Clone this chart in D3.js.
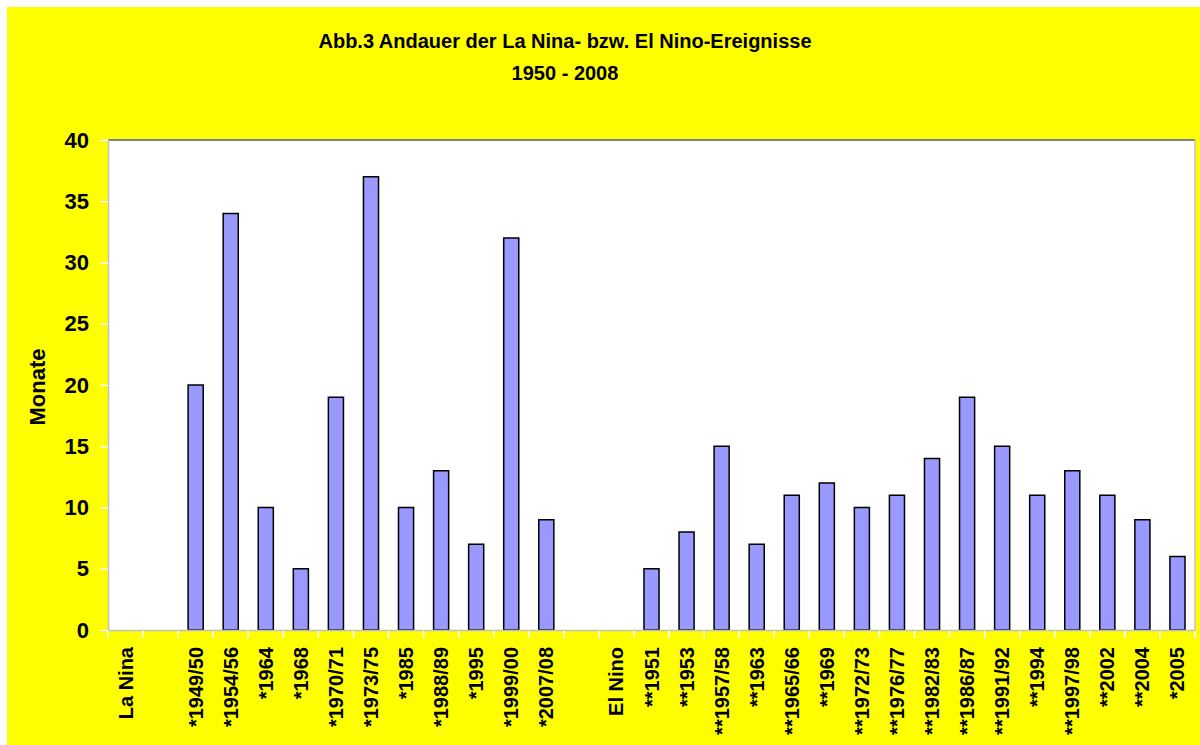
<!DOCTYPE html>
<html>
<head>
<meta charset="utf-8">
<script src="https://cdn.jsdelivr.net/npm/d3@7/dist/d3.min.js"></script>
<style>
  body { margin: 0; background: #fff; }
  svg { display: block; font-family: "Liberation Sans", Arial, sans-serif; }
</style>
</head>
<body>
<svg id="chart" width="1200" height="745"></svg>
<script>
// ---- data ----
const categories = [
  "La Nina", "",
  "*1949/50", "*1954/56", "*1964", "*1968", "*1970/71", "*1973/75", "*1985", "*1988/89", "*1995", "*1999/00", "*2007/08",
  " ", "El Nino",
  "**1951", "**1953", "**1957/58", "**1963", "**1965/66", "**1969", "**1972/73", "**1976/77", "**1982/83", "**1986/87", "**1991/92", "**1994", "**1997/98", "**2002", "**2004", "*2005"
];
const values = [
  null, null,
  20, 34, 10, 5, 19, 37, 10, 13, 7, 32, 9,
  null, null,
  5, 8, 15, 7, 11, 12, 10, 11, 14, 19, 15, 11, 13, 11, 9, 6
];
const yTicks = [0, 5, 10, 15, 20, 25, 30, 35, 40];
const titleLines = ["Abb.3 Andauer der La Nina- bzw. El Nino-Ereignisse", "1950 - 2008"];
const yLabel = "Monate";

// ---- layout ----
const svg = d3.select("#chart");
const W = 1200, H = 745;
const plot = { left: 108, top: 140, right: 1195, bottom: 630 };

svg.append("rect").attr("x", 7).attr("y", 7).attr("width", W - 7).attr("height", H - 7).attr("fill", "#ffff00");

const x = d3.scaleBand().domain(d3.range(categories.length)).range([plot.left, plot.right]).padding(0);
const y = d3.scaleLinear().domain([0, 40]).range([plot.bottom, plot.top]);

// plot area
svg.append("rect")
  .attr("x", plot.left).attr("y", plot.top)
  .attr("width", plot.right - plot.left).attr("height", plot.bottom - plot.top)
  .attr("fill", "#ffffff");

// borders
svg.append("line").attr("x1", plot.left).attr("x2", plot.right).attr("y1", plot.top).attr("y2", plot.top)
  .attr("stroke", "#808080").attr("stroke-width", 2);
svg.append("line").attr("x1", plot.right).attr("x2", plot.right).attr("y1", plot.top).attr("y2", plot.bottom)
  .attr("stroke", "#c0c0c0").attr("stroke-width", 1.5);

// bars
const bw = x.bandwidth() * 0.43;
svg.append("g").selectAll("rect")
  .data(values.map((v, i) => ({ v, i })).filter(d => d.v != null))
  .join("rect")
  .attr("x", d => x(d.i) + (x.bandwidth() - bw) / 2)
  .attr("y", d => y(d.v))
  .attr("width", bw)
  .attr("height", d => y(0) - y(d.v))
  .attr("fill", "#9999ff")
  .attr("stroke", "#000")
  .attr("stroke-width", 1.5);

// y axis
const yAxis = svg.append("g").attr("transform", `translate(${plot.left},0)`)
  .call(d3.axisLeft(y).tickValues(yTicks).tickSize(8).tickPadding(11).tickFormat(d3.format("d")));
yAxis.select(".domain").attr("stroke", "#c0c0c0").attr("stroke-width", 1.5);
yAxis.selectAll(".tick line").attr("stroke", "#ffffff").attr("stroke-width", 1.5);
yAxis.selectAll(".tick text").attr("fill", "#000").attr("font-size", 22).attr("font-weight", "bold")
  .attr("font-family", "Liberation Sans, Arial, sans-serif");

// x axis
const xAxis = svg.append("g").attr("transform", `translate(0,${plot.bottom})`)
  .call(d3.axisBottom(x).tickFormat(i => categories[i]).tickSize(0));
xAxis.select(".domain").attr("stroke", "#c0c0c0").attr("stroke-width", 1.5);
xAxis.selectAll(".tick text")
  .attr("fill", "#000").attr("font-size", 20).attr("font-weight", "bold")
  .attr("font-family", "Liberation Sans, Arial, sans-serif")
  .attr("text-anchor", "end")
  .attr("transform", "rotate(-90)")
  .attr("x", -17).attr("y", 0).attr("dy", "0.35em");
// tick marks at band boundaries
svg.append("g").selectAll("line")
  .data(d3.range(categories.length + 1))
  .join("line")
  .attr("x1", i => plot.left + i * x.step()).attr("x2", i => plot.left + i * x.step())
  .attr("y1", plot.bottom + 1).attr("y2", plot.bottom + 8)
  .attr("stroke", "#ffffff").attr("stroke-width", 1.5);

// y label
svg.append("text")
  .attr("transform", `translate(45,${(plot.top + plot.bottom) / 2 + 2}) rotate(-90)`)
  .attr("text-anchor", "middle")
  .attr("font-size", 22).attr("font-weight", "bold").attr("fill", "#000")
  .text(yLabel);

// title
svg.append("g").selectAll("text").data(titleLines).join("text")
  .attr("x", 565).attr("y", (d, i) => i === 0 ? 48 : 80)
  .attr("text-anchor", "middle")
  .attr("font-size", 20).attr("font-weight", "bold").attr("fill", "#000")
  .text(d => d);
</script>
</body>
</html>
